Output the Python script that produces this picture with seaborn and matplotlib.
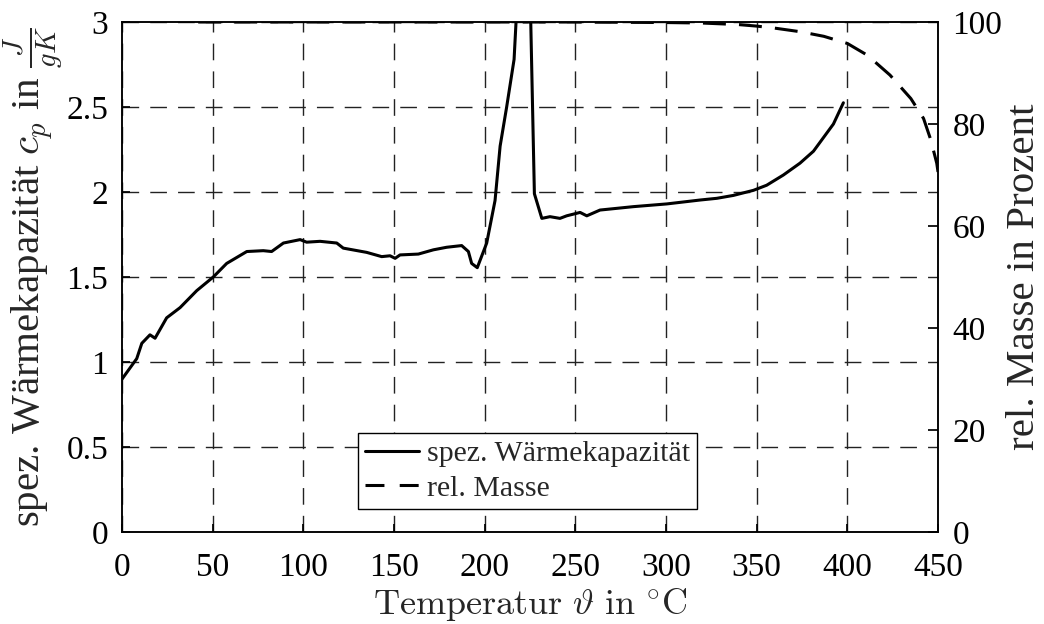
import matplotlib
matplotlib.use("Agg")
import matplotlib.pyplot as plt
import seaborn as sns
import pandas as pd
from matplotlib.ticker import FormatStrFormatter
from matplotlib.lines import Line2D

# --- data ---
cp_temp = [0, 8.1, 10.9, 15.4, 18.2, 24.6, 32, 41.2, 50.3, 57.7, 68.8, 77.9, 82.5, 89, 98.2,
           101.8, 109.2, 118.4, 122, 134.9, 143.2, 147.8, 150.6, 153.3, 163.4, 171.7, 179,
           187.3, 191, 192.8, 195.9, 201.1, 205.7, 208.5, 212.1, 216.2, 218.5, 221, 224.5,
           227.4, 231.5, 236, 241.5, 245.2, 252.6, 256.3, 263.6, 282, 300.4, 318.8, 328,
           337.1, 348.2, 355.5, 364.7, 373.9, 381.3, 386.8, 392.3, 397.8]
cp_value = [0.90, 1.02, 1.11, 1.16, 1.14, 1.26, 1.32, 1.42, 1.50, 1.58, 1.65, 1.655, 1.65, 1.70, 1.72,
            1.705, 1.71, 1.70, 1.67, 1.645, 1.62, 1.625, 1.61, 1.63, 1.635, 1.66, 1.675,
            1.685, 1.65, 1.58, 1.555, 1.70, 1.95, 2.27, 2.50, 2.78, 3.25, 3.5, 3.45,
            1.99, 1.845, 1.855, 1.845, 1.86, 1.88, 1.86, 1.894, 1.914, 1.93, 1.953, 1.963,
            1.98, 2.01, 2.04, 2.10, 2.17, 2.24, 2.32, 2.40, 2.525]

mass_temp = [42, 100, 150, 200, 250, 300, 320, 340, 350, 360, 374, 387, 400, 411, 423.5,
             435, 442, 446, 449.3, 450]
mass_value = [100, 100, 100, 100, 100, 99.9, 99.8, 99.5, 99.2, 98.8, 98.1, 97.2, 95.8, 93.5,
              89.6, 85.0, 81.1, 76.9, 72.3, 70.6]

x_ticks = [0, 50, 100, 150, 200, 250, 300, 350, 400, 450]
cp_ticks = [0, 0.5, 1, 1.5, 2, 2.5, 3]
mass_ticks = [0, 20, 40, 60, 80, 100]

label_cp = "spez. Wärmekapazität"
label_mass = "rel. Masse"

df_cp = pd.DataFrame({"T": cp_temp, "cp": cp_value})
df_mass = pd.DataFrame({"T": mass_temp, "m": mass_value})

sns.set_theme(style="ticks")
plt.rcParams["font.family"] = ["Liberation Serif", "DejaVu Serif"]
plt.rcParams["mathtext.fontset"] = "cm"
plt.rcParams["axes.linewidth"] = 1.1

fig = plt.figure(figsize=(10.44, 6.24), dpi=100)
ax = fig.add_axes([0.1169, 0.1474, 0.7816, 0.8173])
ax2 = ax.twinx()

LW = 2.2
MASS_DASH = (7.5, 4.3)

sns.lineplot(data=df_cp, x="T", y="cp", ax=ax, color="black", linewidth=LW,
             estimator=None, sort=False)
sns.lineplot(data=df_mass, x="T", y="m", ax=ax2, color="black", linewidth=LW,
             estimator=None, sort=False)
ax2.lines[0].set_dashes(MASS_DASH)

ax.set_xlim(0, 450)
ax.set_ylim(0, 3)
ax2.set_ylim(0, 100)
ax.set_xticks(x_ticks)
ax.set_yticks(cp_ticks)
ax2.set_yticks(mass_ticks)
ax.yaxis.set_major_formatter(FormatStrFormatter("%g"))

ax.grid(True, color="#222222", linewidth=1.0, linestyle=(0, (12, 8)))
for spine in list(ax.spines.values()) + list(ax2.spines.values()):
    spine.set_color("black")
    spine.set_linewidth(1.1)

fs = 24
ax.tick_params(axis="both", direction="in", length=6, labelsize=fs, colors="black")
ax.tick_params(axis="x", pad=15)
ax.tick_params(axis="y", pad=10)
ax2.tick_params(axis="y", direction="in", length=7, labelsize=fs, colors="black", pad=10.5)

ax.set_xlabel(r"$\mathrm{Temperatur}\ \vartheta\ \mathrm{in}\ ^{\circ}\mathrm{C}$",
              fontsize=26)
ax.xaxis.set_label_coords(0.5, -0.106)
ax.set_ylabel(r"spez. Wärmekapazität $c_p$ in $\frac{J}{gK}$", fontsize=29.5)
ax.yaxis.set_label_coords(-0.069, 0.5)
ax2.set_ylabel("rel. Masse in Prozent", fontsize=29.5)
ax2.yaxis.set_label_coords(1.083, 0.5)

handles = [Line2D([], [], color="black", linewidth=LW),
           Line2D([], [], color="black", linewidth=LW, dashes=(6.2, 5.0))]
leg = ax2.legend(handles, [label_cp, label_mass], loc="lower left",
                 bbox_to_anchor=(0.289, 0.045), fontsize=21.5, frameon=True,
                 fancybox=False, framealpha=1, edgecolor="black",
                 handlelength=1.8, handletextpad=0.25, borderpad=0.25,
                 labelspacing=0.25, borderaxespad=0)
leg.get_frame().set_linewidth(1.0)

fig.savefig("out.png", dpi=100)
